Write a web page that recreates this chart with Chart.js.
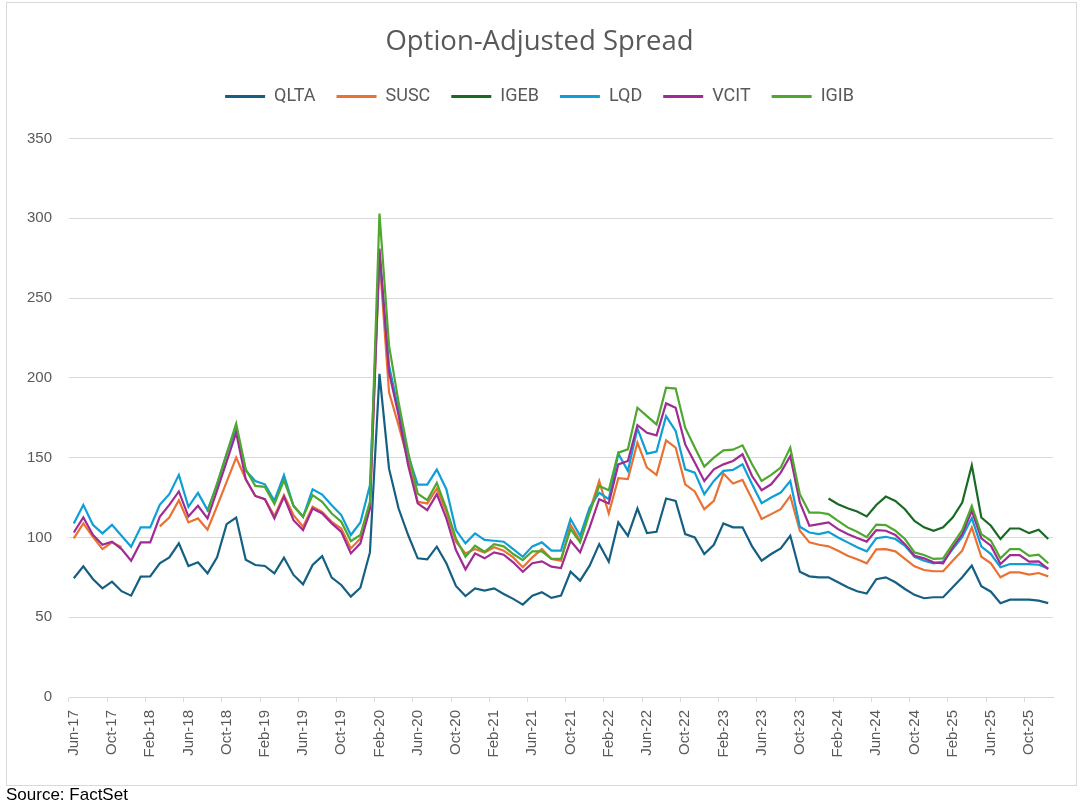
<!DOCTYPE html>
<html>
<head>
<meta charset="utf-8">
<title>Option-Adjusted Spread</title>
<script src="https://cdn.jsdelivr.net/npm/chart.js@4.4.1/dist/chart.umd.min.js"></script>
<style>
  body { margin: 0; background: #fff; }
  #wrap { position: relative; width: 1083px; height: 806px; }
  #chart-oas { position: absolute; left: 0; top: 0; }
  #source { position: absolute; left: 6px; top: 785px; font: 17px "Liberation Sans", Arial, sans-serif; color: #000; }
</style>
</head>
<body>
<div id="wrap">
  <canvas id="chart-oas" width="1083" height="806"></canvas>
  <div id="source">Source: FactSet</div>
</div>
<script>
// months Jun-17 .. Dec-25
const months = [
  "Jun-17","Jul-17","Aug-17","Sep-17","Oct-17","Nov-17","Dec-17",
  "Jan-18","Feb-18","Mar-18","Apr-18","May-18","Jun-18","Jul-18","Aug-18","Sep-18","Oct-18","Nov-18","Dec-18",
  "Jan-19","Feb-19","Mar-19","Apr-19","May-19","Jun-19","Jul-19","Aug-19","Sep-19","Oct-19","Nov-19","Dec-19",
  "Jan-20","Feb-20","Mar-20","Apr-20","May-20","Jun-20","Jul-20","Aug-20","Sep-20","Oct-20","Nov-20","Dec-20",
  "Jan-21","Feb-21","Mar-21","Apr-21","May-21","Jun-21","Jul-21","Aug-21","Sep-21","Oct-21","Nov-21","Dec-21",
  "Jan-22","Feb-22","Mar-22","Apr-22","May-22","Jun-22","Jul-22","Aug-22","Sep-22","Oct-22","Nov-22","Dec-22",
  "Jan-23","Feb-23","Mar-23","Apr-23","May-23","Jun-23","Jul-23","Aug-23","Sep-23","Oct-23","Nov-23","Dec-23",
  "Jan-24","Feb-24","Mar-24","Apr-24","May-24","Jun-24","Jul-24","Aug-24","Sep-24","Oct-24","Nov-24","Dec-24",
  "Jan-25","Feb-25","Mar-25","Apr-25","May-25","Jun-25","Jul-25","Aug-25","Sep-25","Oct-25","Nov-25","Dec-25"
];

// spreads (bp)
const qlta = [
  74.4,81.9,74.0,68.1,72.3,66.3,63.5,75.4,75.6,83.8,87.5,96.3,82.1,84.4,77.5,87.5,108.3,112.5,86.0,82.7,
  82.1,77.5,87.3,76.5,70.6,82.7,88.3,74.8,70.2,62.9,68.5,90.6,202.5,143.1,118.1,101.5,86.9,86.3,94.2,83.8,
  69.6,63.3,68.1,66.7,68.1,64.6,61.5,57.9,63.5,65.6,62.1,63.5,78.5,72.9,82.3,95.8,84.8,109.4,101.0,118.1,
  102.7,103.5,124.4,122.9,102.1,100.0,89.6,95.4,108.8,106.3,106.3,94.4,85.4,89.6,93.1,101.0,78.5,75.6,75.0,75.0,
  71.9,68.8,66.3,64.8,73.8,75.0,71.9,67.7,64.0,61.9,62.5,62.5,68.8,75.0,82.3,69.4,66.0,58.8,61.0,61.0,
  61.0,60.4,58.8
];
const susc = [
  99.4,108.8,100.4,92.7,96.9,93.8,null,null,null,106.9,112.5,123.3,109.4,111.9,104.8,119.6,134.8,150.0,136.5,126.0,
  124.0,113.5,126.5,114.0,106.7,119.2,116.0,109.8,105.6,93.1,99.4,120.2,275.0,191.0,170.2,148.3,122.3,121.3,130.6,116.0,
  97.3,90.0,92.7,90.6,93.8,91.7,87.5,81.3,87.5,92.7,86.5,85.4,107.9,97.9,116.7,135.4,115.0,137.1,136.5,159.4,
  143.8,139.2,160.8,156.3,133.3,128.8,117.7,122.9,140.0,133.8,136.0,124.0,111.5,114.6,117.7,126.0,104.2,96.9,95.4,94.4,
  91.7,88.5,86.3,83.8,92.5,92.7,91.3,86.5,81.9,79.6,78.8,78.8,85.4,91.7,106.3,87.9,83.8,75.0,78.1,78.1,
  76.7,77.7,75.6
];
const igeb = [
  null,null,null,null,null,null,null,null,null,null,null,null,null,null,null,null,null,null,null,null,
  null,null,null,null,null,null,null,null,null,null,null,null,null,null,null,null,null,null,null,null,
  null,null,null,null,null,null,null,null,null,null,null,null,null,null,null,null,null,null,null,null,
  null,null,null,null,null,null,null,null,null,null,null,null,null,null,null,null,null,null,null,124.4,
  120.8,118.3,116.3,113.2,120.3,125.6,122.9,117.7,110.4,106.3,104.2,106.3,112.5,121.9,145.2,112.5,107.3,99.0,105.6,105.6,
  102.7,104.8,99.0
];
const lqd = [
  108.8,120.4,107.9,102.5,107.9,101.0,94.2,106.3,106.3,120.4,127.1,139.2,119.2,127.9,117.1,133.0,152.0,168.8,142.0,135.4,
  133.3,123.0,139.0,119.8,112.9,130.2,126.9,120.2,114.0,101.5,109.4,132.7,277.0,207.7,179.6,151.5,133.1,133.1,142.5,130.2,
  104.6,96.3,102.5,98.5,97.9,97.3,92.7,87.9,94.4,96.9,91.7,91.7,111.5,101.0,118.8,128.0,124.0,152.5,141.7,168.3,
  152.5,153.8,176.0,166.7,142.7,140.6,127.1,135.4,141.7,142.3,145.8,133.3,121.5,125.0,128.1,135.4,106.7,103.1,102.1,103.5,
  100.0,96.9,93.8,91.3,99.5,100.4,99.0,94.8,87.9,85.4,83.8,84.8,92.7,100.4,112.1,94.2,89.6,81.3,83.3,83.3,
  83.3,82.9,80.6
];
const vcit = [
  103.1,112.5,101.7,95.4,97.3,92.7,85.4,96.9,96.9,112.9,120.4,128.8,113.1,119.8,111.9,129.4,147.5,165.6,136.5,126.0,
  124.0,111.9,125.4,110.8,104.6,118.1,115.0,108.8,103.5,90.0,96.3,118.0,281.0,203.5,176.5,145.2,121.3,117.1,127.1,111.9,
  92.1,80.0,90.0,86.9,90.6,89.2,84.4,78.5,83.8,85.0,81.7,80.8,97.9,90.6,106.3,124.0,121.3,145.8,147.9,170.4,
  165.6,164.0,184.0,181.3,158.3,146.9,135.4,142.7,145.8,147.9,152.1,138.5,129.6,133.3,140.6,151.0,121.9,107.3,108.3,109.4,
  105.2,102.1,99.6,97.4,104.5,104.2,101.5,95.8,88.5,86.9,84.4,83.8,93.8,102.1,116.7,99.4,94.8,83.3,88.9,88.9,
  84.8,85.0,80.2
];
const igib = [
  null,null,null,null,null,null,null,null,null,null,null,null,null,null,116.0,133.8,152.5,171.3,142.7,132.3,
  131.7,121.0,135.8,119.8,112.9,126.5,122.3,115.0,109.8,97.7,101.5,122.3,303.0,220.2,184.8,153.5,127.5,123.3,134.2,118.1,
  99.4,87.9,94.8,91.0,95.8,94.4,89.6,85.8,91.3,91.3,86.5,86.5,105.2,96.9,115.6,132.3,129.6,153.1,155.2,181.3,
  176.0,170.8,193.8,193.3,168.8,156.3,144.4,150.0,154.6,155.0,157.7,145.8,135.4,139.2,143.8,156.3,127.1,115.6,115.6,114.6,
  110.4,106.3,103.5,100.2,108.0,107.7,104.2,99.0,90.6,89.0,86.5,86.9,95.8,104.6,119.8,102.1,97.9,86.9,92.7,92.7,
  88.5,89.2,83.8
];

// y axis ticks
const yTicks = { min: 0, max: 350, step: 50 };

const grey = "#595959";
const gridGrey = "#d9d9d9";

// chart frame drawn around everything
const framePlugin = {
  id: "frame",
  beforeDraw(chart) {
    const c = chart.ctx;
    c.save();
    c.strokeStyle = gridGrey;
    c.lineWidth = 1;
    c.strokeRect(6.5, 2.5, 1070, 783);
    c.restore();
  },
};

function line(label, data, color, order) {
  return {
    label: label,
    data: data,
    borderColor: color,
    backgroundColor: color,
    borderWidth: 2.2,
    pointRadius: 0,
    tension: 0,
    spanGaps: false,
    order: order,
  };
}

document.addEventListener("DOMContentLoaded", () => {
  const ctx = document.getElementById("chart-oas");
  new Chart(ctx, {
    type: "line",
    data: {
      labels: months,
      datasets: [
        line("QLTA", qlta, "#156082", 6),
        line("SUSC", susc, "#E97132", 5),
        line("IGEB", igeb, "#196B24", 4),
        line("LQD", lqd, "#0F9ED5", 3),
        line("VCIT", vcit, "#A02B93", 2),
        line("IGIB", igib, "#4EA72E", 1),
      ],
    },
    options: {
      responsive: false,
      devicePixelRatio: 1,
      animation: false,
      layout: { padding: { top: 0, left: 26, right: 30, bottom: 20 } },
      plugins: {
        title: {
          display: true,
          text: "Option-Adjusted Spread",
          color: grey,
          font: { family: "'Open Sans', sans-serif", size: 27.5, weight: "normal", lineHeight: 1.2 },
          padding: { top: 26, bottom: 7.5 },
        },
        // empty spacer between legend and plot
        subtitle: {
          display: true,
          text: "",
          weight: 500,
          font: { size: 1, lineHeight: 1 },
          padding: { top: 0, bottom: 22 },
        },
        legend: {
          position: "top",
          labels: {
            color: grey,
            font: { family: "Roboto, sans-serif", size: 18 },
            boxWidth: 40,
            boxHeight: 3,
            padding: 21,
            sort: (a, b) => a.datasetIndex - b.datasetIndex,
            generateLabels: (chart) =>
              Chart.defaults.plugins.legend.labels.generateLabels(chart).map((l) => ({
                ...l,
                lineWidth: 0,
                fillStyle: l.strokeStyle,
              })),
          },
        },
        tooltip: { enabled: false },
      },
      scales: {
        x: {
          offset: true,
          grid: {
            offset: true,
            drawOnChartArea: false,
            drawTicks: true,
            tickLength: 5,
            color: (c) => (c.index % 4 === 0 ? gridGrey : "rgba(0,0,0,0)"),
          },
          border: { display: true, color: gridGrey },
          ticks: {
            autoSkip: false,
            maxRotation: 90,
            minRotation: 90,
            padding: 8,
            color: grey,
            font: { family: "'Liberation Sans', Arial, sans-serif", size: 15 },
            callback: function (value, index) {
              return index % 4 === 0 ? this.getLabelForValue(value) : "";
            },
          },
          afterFit: (scale) => { scale.height = 89; },
        },
        y: {
          min: yTicks.min,
          max: yTicks.max,
          grid: { color: gridGrey, lineWidth: 1, drawTicks: false },
          border: { display: false },
          ticks: {
            stepSize: yTicks.step,
            padding: 17,
            color: grey,
            font: { family: "'Liberation Sans', Arial, sans-serif", size: 15 },
          },
          afterFit: (scale) => { scale.width = 43; },
        },
      },
    },
    plugins: [framePlugin],
  });
});
</script>
</body>
</html>
